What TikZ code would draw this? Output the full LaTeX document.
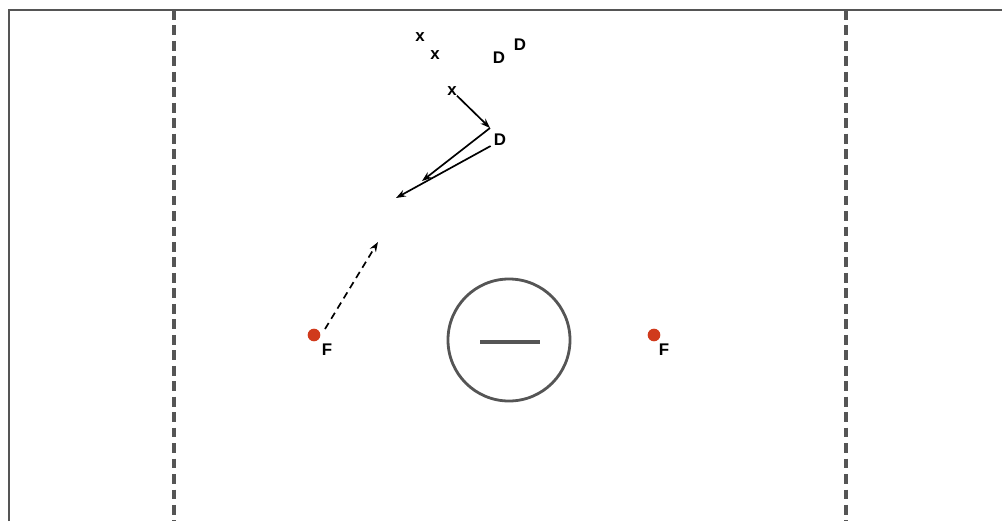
\documentclass[tikz,border=0pt]{standalone}
\usepackage{fontspec}
\setmainfont{Liberation Sans}
\usetikzlibrary{positioning, arrows.meta, calc}
\definecolor{lineGray}{HTML}{555555}
\definecolor{dotRed}{HTML}{D03A1C}

\begin{document}
\begin{tikzpicture}[x=0.025cm, y=-0.025cm,
    every node/.style={font=\fontsize{12}{14}\selectfont\bfseries, inner sep=0pt},
    player/.style={text=black},
    pass/.style={-{Stealth[length=7pt, width=5pt]}, line width=1.2pt},
    fdot/.style={circle, fill=dotRed, minimum size=9pt}]
        \useasboundingbox (0,0) rectangle (1002,521);
        % field border and restraining lines
        \draw[lineGray, line width=1.9pt] (9,521) -- (9,10) -- (1010,10);
        \draw[lineGray, line width=2.2pt, dash pattern=on 7pt off 4pt] (174,10) -- (174,521);
        \draw[lineGray, line width=2.2pt, dash pattern=on 7pt off 4pt] (846,10) -- (846,521);
        % goal crease
        \node[circle, draw=lineGray, line width=2pt, minimum size=3.05cm] (crease) at (509,340) {};
        \draw[lineGray, line width=2.2pt] ($(crease.center)+(-29,2)$) -- ($(crease.center)+(31,2)$);
        % players — top
        \node[player] (xa) at (420,37) {x};
        \node[player] (xb) at (435,55) {x};
        \node[player] (da) at (499,58) {D};
        \node[player] (db) at (520,45) {D};
        \node[player] (xc) at (452,91) {x};
        \node[player] (dc) at (500,140) {D};
        % passes
        \coordinate (turn) at (490,128);
        \coordinate (endA) at (422,181);
        \coordinate (endB) at (396,198);
        \draw[pass] (xc.south east) -- (turn);
        \draw[pass] (turn) -- (endA);
        \draw[pass] ($(dc.west)+(-3,6)$) -- (endB);
        % attackers — F
        \node[fdot] (fl) at (314,335) {};
        \node[player, below right=3pt and 2pt of fl] (flabel) {F};
        \node[fdot] (fr) at (654,335) {};
        \node[player, below right=3pt and 0pt of fr] (frlabel) {F};
        \coordinate (cut) at (378,242);
        \draw[pass, dash pattern=on 5pt off 3.5pt] ($(fl)+(11,-6)$) -- (cut);
      \end{tikzpicture}
\end{document}
